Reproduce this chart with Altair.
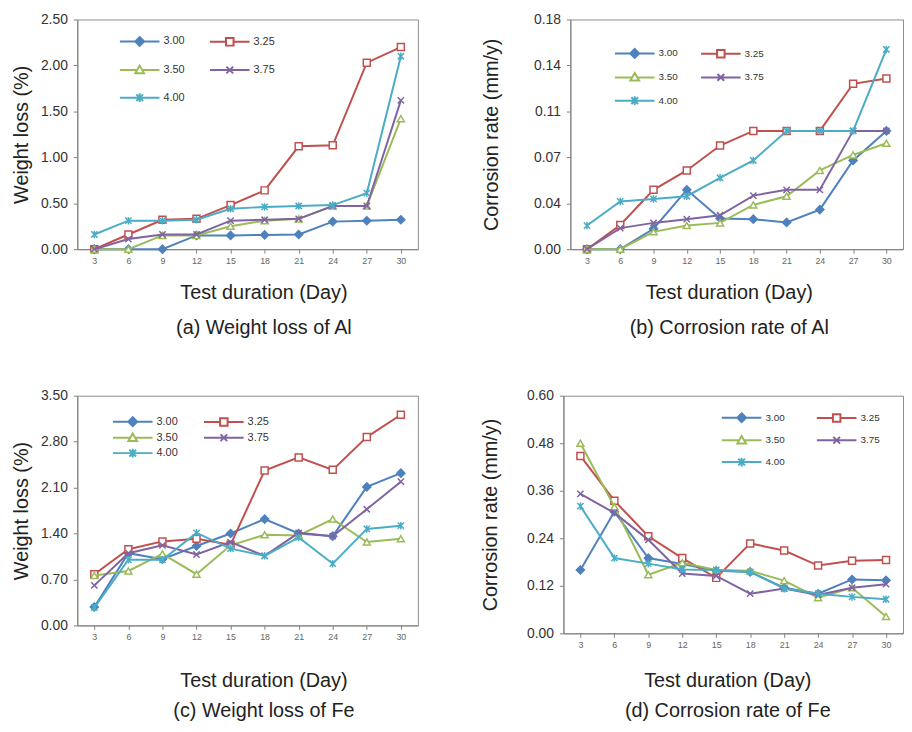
import altair as alt
import pandas as pd

days = [3, 6, 9, 12, 15, 18, 21, 24, 27, 30]
series = ["3.00", "3.25", "3.50", "3.75", "4.00"]
colors = ["#4F81BD", "#C0504D", "#9BBB59", "#8064A2", "#4BACC6"]

# (a) Weight loss of Al (%)
al_wl_300 = [0, 0, 0, 0.15, 0.15, 0.155, 0.16, 0.30, 0.31, 0.32]
al_wl_325 = [0, 0.16, 0.32, 0.33, 0.48, 0.64, 1.12, 1.13, 2.03, 2.20]
al_wl_350 = [0, 0, 0.15, 0.15, 0.25, 0.31, 0.33, 0.47, 0.47, 1.42]
al_wl_375 = [0, 0.11, 0.16, 0.16, 0.31, 0.32, 0.33, 0.47, 0.47, 1.62]
al_wl_400 = [0.16, 0.31, 0.31, 0.32, 0.44, 0.46, 0.47, 0.48, 0.61, 2.10]

# (b) Corrosion rate of Al (mm/y)
al_cr_300 = [0, 0, 0.016, 0.0465, 0.024, 0.0235, 0.021, 0.031, 0.0695, 0.0927]
al_cr_325 = [0, 0.019, 0.0465, 0.0617, 0.0812, 0.0927, 0.0927, 0.0927, 0.1296, 0.1337]
al_cr_350 = [0, 0, 0.0136, 0.0185, 0.0206, 0.0347, 0.0415, 0.0617, 0.0739, 0.083]
al_cr_375 = [0, 0.0165, 0.0206, 0.0235, 0.0266, 0.042, 0.0465, 0.0465, 0.0927, 0.0927]
al_cr_400 = [0.0185, 0.0374, 0.0394, 0.0415, 0.0559, 0.0695, 0.0927, 0.0927, 0.0927, 0.1565]

# (c) Weight loss of Fe (%)
fe_wl_300 = [0.28, 1.10, 1.01, 1.21, 1.40, 1.62, 1.40, 1.36, 2.11, 2.32]
fe_wl_325 = [0.78, 1.16, 1.28, 1.32, 1.23, 2.36, 2.56, 2.37, 2.87, 3.21]
fe_wl_350 = [0.76, 0.83, 1.09, 0.78, 1.22, 1.38, 1.37, 1.62, 1.27, 1.32]
fe_wl_375 = [0.61, 1.10, 1.22, 1.08, 1.27, 1.06, 1.41, 1.36, 1.77, 2.19]
fe_wl_400 = [0.27, 1.00, 1.00, 1.41, 1.17, 1.06, 1.34, 0.94, 1.47, 1.52]

# (d) Corrosion rate of Fe (mm/y)
fe_cr_300 = [0.16, 0.307, 0.19, 0.175, 0.158, 0.155, 0.115, 0.10, 0.136, 0.134]
fe_cr_325 = [0.448, 0.335, 0.245, 0.19, 0.14, 0.227, 0.209, 0.171, 0.183, 0.185]
fe_cr_350 = [0.48, 0.32, 0.148, 0.178, 0.16, 0.158, 0.133, 0.09, 0.115, 0.0425]
fe_cr_375 = [0.352, 0.304, 0.236, 0.151, 0.145, 0.10, 0.113, 0.097, 0.115, 0.124]
fe_cr_400 = [0.321, 0.19, 0.176, 0.161, 0.16, 0.155, 0.113, 0.10, 0.092, 0.086]

ticks_a = [0, 0.5, 1.0, 1.5, 2.0, 2.5]
ticks_b = [0, 0.036, 0.072, 0.108, 0.144, 0.18]
ticks_c = [0, 0.7, 1.4, 2.1, 2.8, 3.5]
ticks_d = [0, 0.12, 0.24, 0.36, 0.48, 0.6]

FONT = "Liberation Sans"

# legend symbols: a line with its marker (symbol unit = 5 px)
legend_paths = [
    "M-4,0L4,0M0,-0.9L0.9,0L0,0.9L-0.9,0ZM0,-0.45L0.45,0L0,0.45L-0.45,0Z",
    "M-4,0L-0.76,0M0.76,0L4,0M-0.76,-0.76L0.76,-0.76L0.76,0.76L-0.76,0.76Z",
    "M-4,0L-0.52,0M0.52,0L4,0M0,-0.88L0.88,0.64L-0.88,0.64Z",
    "M-4,0L4,0M-0.68,-0.68L0.68,0.68M-0.68,0.68L0.68,-0.68",
    "M-4,0L4,0M-0.68,-0.68L0.68,0.68M-0.68,0.68L0.68,-0.68M0,-0.88L0,0.88",
]

markers = [
    dict(shape="diamond", filled=True, size=55),
    dict(shape="square", filled=True, fill="white", strokeWidth=1.5, size=50),
    dict(shape="triangle-up", filled=True, fill="white", strokeWidth=1.5, size=50),
    dict(shape="M-1,-1L1,1M-1,1L1,-1", filled=False, strokeWidth=1.5, size=40),
    dict(shape="M-1,-1L1,1M-1,1L1,-1M0,-1.2L0,1.2", filled=False, strokeWidth=1.5, size=40),
]


def panel(vals, ymax, yticks, ytitle, caption, w, h, ytp, xtx, xtp, xlh,
          legx, legy, legfs, legcp, legrp):
    rows = []
    for s, vs in zip(series, vals):
        for d, v in zip(days, vs):
            rows.append({"day": d, "series": s, "value": v})
    df = pd.DataFrame(rows)
    x = alt.X("day:O", sort=days,
              scale=alt.Scale(type="point", padding=0.5),
              axis=alt.Axis(title=["Test duration (Day)", caption],
                            titleX=w / 2 + xtx, titleAlign="center",
                            titlePadding=xtp, titleLineHeight=xlh,
                            labelAngle=0))
    y = alt.Y("value:Q", scale=alt.Scale(domain=[0, ymax], nice=False, zero=True),
              axis=alt.Axis(values=yticks, format=".2f", title=ytitle,
                            titlePadding=ytp))
    layers = []
    for s, c, m in zip(series, colors, markers):
        base = alt.Chart(df).transform_filter(alt.datum.series == s)
        layers.append(base.mark_line(color=c, strokeWidth=2).encode(x=x, y=y))
        mm = dict(m)
        if mm.get("filled") and "fill" not in mm:
            mm["fill"] = c
        layers.append(base.mark_point(stroke=c, opacity=1, **mm).encode(x=x, y=y))
    leg = alt.Legend(orient="none", legendX=legx, legendY=legy, columns=2,
                     direction="horizontal",
                     title=None, symbolSize=100, symbolStrokeWidth=2,
                     labelFontSize=legfs, labelFont=FONT, labelColor="#333",
                     labelOffset=18, columnPadding=legcp, rowPadding=legrp,
                     padding=0)
    legend_layer = alt.Chart(df).transform_filter("false").mark_point(
        filled=False, strokeWidth=2, opacity=1).encode(
        color=alt.Color("series:N", scale=alt.Scale(domain=series, range=colors), legend=leg),
        shape=alt.Shape("series:N", scale=alt.Scale(domain=series, range=legend_paths), legend=leg),
    )
    return alt.layer(*layers, legend_layer).properties(width=w, height=h)


pa = panel([al_wl_300, al_wl_325, al_wl_350, al_wl_375, al_wl_400], 2.5, ticks_a,
           "Weight loss (%)", "(a) Weight loss of Al", 344, 232, 9, 16, 18, 35,
           57, 16, 11, 21, 11)
pb = panel([al_cr_300, al_cr_325, al_cr_350, al_cr_375, al_cr_400], 0.18, ticks_b,
           "Corrosion rate (mm/y)", "(b) Corrosion rate of Al", 336, 232, 32, -8, 18, 35,
           59, 28, 10, 19, 6.5)
pc = panel([fe_wl_300, fe_wl_325, fe_wl_350, fe_wl_375, fe_wl_400], 3.5, ticks_c,
           "Weight loss (%)", "(c) Weight loss of Fe", 344, 232, 9, 16, 30, 30,
           50, 20, 11, 22, -1.5)
pd_ = panel([fe_cr_300, fe_cr_325, fe_cr_350, fe_cr_375, fe_cr_400], 0.6, ticks_d,
            "Corrosion rate (mm/y)", "(d) Corrosion rate of Fe", 343, 240, 26, -6, 22, 30,
            174, 16, 10, 28, 5)

row1 = alt.hconcat(pa, pb, spacing=63).resolve_scale(color="independent", shape="independent")
row2 = alt.hconcat(pc, pd_, spacing=62).resolve_scale(color="independent", shape="independent")

chart = alt.vconcat(row1, row2, spacing=50).resolve_scale(
    color="independent", shape="independent"
).properties(
    padding={"left": 3, "top": 0, "right": 0, "bottom": 0}
).configure(
    font=FONT,
).configure_view(
    stroke="#8C8C8C", strokeWidth=1,
).configure_axis(
    grid=False, domainColor="#7F7F7F", tickColor="#7F7F7F", tickSize=4,
    labelFont=FONT, titleFont=FONT, titleFontWeight="normal",
    titleFontSize=20, titleColor="#222",
).configure_axisY(
    labelFontSize=14, labelColor="#333", labelPadding=6,
).configure_axisX(
    labelFontSize=9, labelColor="#666", labelPadding=3,
)

chart.save("out.html", embed_options={"renderer": "svg", "actions": False})
